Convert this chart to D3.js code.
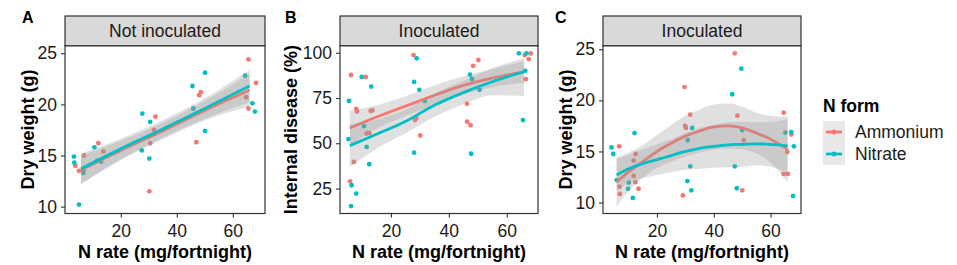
<!DOCTYPE html>
<html>
<head>
<meta charset="utf-8">
<script src="https://cdn.jsdelivr.net/npm/d3@7/dist/d3.min.js"></script>
<style>
  body { margin: 0; background: #fff; }
  svg { font-family: "Liberation Sans", Arial, sans-serif; }
</style>
</head>
<body>
<svg id="chart" width="957" height="265"></svg>
<script>
// ---------- data ----------
const seriesNames = ['Ammonium', 'Nitrate'];
const seriesColors = ['#F8766D', '#00BFC4'];
const xTicks = [20, 40, 60];
const dryWeightTicks = [10, 15, 20, 25];
const diseaseTicks = [25, 50, 75, 100];

// A: not inoculated, dry weight (g)  [N rate, value]
const ptsA_ammonium = [[3.8,14.0],[5.1,13.5],[6.9,15.0],[6.9,13.6],[12.0,16.2],[13.8,15.4],[32.4,18.8],[31.9,17.5],
  [30.5,16.2],[30.2,11.5],[65.6,24.4],[48.6,21.2],[48.0,20.9],[68.3,22.1],[64.8,20.7],[65.6,19.6],[47.0,16.3]];
const ptsA_nitrate = [[3.3,14.9],[3.4,14.3],[6.6,13.3],[5.1,10.2],[10.6,15.8],[11.6,14.5],[13.0,14.4],[27.7,19.1],
  [27.5,15.5],[30.5,18.3],[30.2,14.7],[50.1,23.1],[45.6,21.8],[64.4,22.8],[45.9,19.6],[67.0,20.1],[67.9,19.3],[50.1,17.4]];
// smooth: [N rate, fit, lower, upper]
const fitA_ammonium = [[5.8,13.6,12.2,15.0],[20,15.5,14.55,16.45],[35,17.4,16.6,18.2],[50,19.4,18.45,20.35],[66,21.4,19.8,23.0]];
const fitA_nitrate = [[5.8,13.7,12.2,15.2],[20,15.65,14.65,16.65],[35,17.6,16.75,18.45],[50,19.6,18.6,20.6],[66,21.8,20.2,23.4]];

// B: inoculated, internal disease (%)
const ptsB_ammonium = [[6.2,87.7],[11.3,86.6],[8.0,69.0],[8.3,67.6],[13.0,67.9],[13.6,68.2],[11.6,55.4],[12.5,55.6],
  [7.2,39.7],[5.9,29.0],[27.8,98.7],[28.3,62.8],[28.8,63.9],[30.1,54.3],[50.2,96.0],[48.4,92.8],[46.3,71.8],
  [46.3,61.9],[47.5,60.0],[66.2,98.7],[68.3,99.7],[67.6,96.5],[66.6,85.4]];
const ptsB_nitrate = [[5.5,73.4],[9.9,86.6],[13.2,81.3],[10.7,59.5],[5.3,52.3],[11.6,48.0],[12.5,38.4],[6.4,26.8],
  [8.0,22.2],[6.2,15.3],[28.9,96.9],[28.0,83.9],[29.8,79.5],[31.7,73.4],[28.0,44.8],[47.3,87.9],[48.0,85.5],
  [50.6,79.5],[47.7,44.2],[64.2,99.7],[66.8,99.7],[66.4,90.0],[65.6,62.8]];
const fitB_ammonium = [[5.8,58.4,48.9,67.9],[15,64.5,58,71],[25,70.5,65,76],[35,76.5,71,82],[45,82,77,87],
  [55,86,81,91],[66,89.5,83.5,95.5]];
const fitB_nitrate = [[5.8,48.7,36.7,60.7],[15,55,47,63],[25,62,55.5,68.5],[35,71,64.5,77.5],[45,78,71.5,84.5],
  [55,84,76.5,91.5],[66,89.5,76,97]];

// C: inoculated, dry weight (g)
const ptsC_ammonium = [[6.7,15.5],[12.5,14.75],[11.8,14.1],[6.8,11.55],[6.9,10.85],[11.8,12.6],[12.4,12.0],[13.5,11.35],
  [29.7,21.3],[31.7,18.6],[29.9,17.5],[30.2,17.3],[29.1,10.7],[47.4,24.6],[48.3,18.5],[50.6,16.1],[50.0,11.2],
  [64.6,18.8],[67.3,16.65],[65.9,14.95],[64.6,12.8],[66.1,12.8]];
const ptsC_nitrate = [[4.0,15.4],[4.6,14.75],[12.1,16.8],[5.8,12.2],[10.1,11.95],[9.8,11.35],[11.5,10.45],[32.4,17.3],
  [30.8,16.1],[31.7,13.55],[30.7,12.1],[32.1,11.2],[49.7,23.1],[46.5,20.6],[50.0,17.1],[47.4,13.55],[48.1,11.4],
  [65.2,16.85],[67.3,16.9],[68.2,15.5],[67.9,10.65]];
const fitC_ammonium = [[5.8,12.0,9.6,14.4],[10,13.0,11.1,14.9],[15,14.0,12.4,15.6],[20,15.0,13.4,16.6],[25,15.8,14.0,17.6],
  [30,16.5,14.5,18.5],[35,17.0,14.9,19.1],[40,17.4,15.2,19.6],[45,17.5,15.3,19.7],[50,17.3,15.2,19.4],
  [55,16.8,14.8,18.8],[60,16.2,13.9,18.5],[66,15.2,12.0,18.4]];
const fitC_nitrate = [[5.8,12.7,11.1,14.3],[10,13.3,11.9,14.7],[15,13.8,12.4,15.2],[20,14.2,12.7,15.7],[25,14.6,13.0,16.2],
  [30,15.0,13.2,16.8],[35,15.3,13.3,17.3],[40,15.5,13.4,17.6],[45,15.65,13.45,17.85],[50,15.7,13.5,17.9],
  [55,15.75,13.65,17.85],[60,15.7,13.5,17.9],[66,15.55,12.95,18.15]];

// ---------- drawing ----------
class FacetPanel {
    constructor(config) {
        this.config = {
            parent: config.parent,
            left: config.left,
            right: config.right,
            top: config.top || 16,
            stripHeight: config.stripHeight || 29.7,
            bottom: config.bottom || 213.5,
            xdomain: config.xdomain,
            ydomain: config.ydomain,
            yticks: config.yticks,
            strip: config.strip,
            ylabel: config.ylabel,
            ylabelX: config.ylabelX,
            tag: config.tag,
            tagX: config.tagX,
            points: config.points,
            fits: config.fits
        };
        this.init();
    }

    init() {
        let self = this;
        const c = self.config;
        self.svg = d3.select(c.parent);
        self.plotTop = c.top + c.stripHeight;

        self.xscale = d3.scaleLinear().domain(c.xdomain).range([c.left, c.right]);
        self.yscale = d3.scaleLinear().domain(c.ydomain).range([c.bottom, self.plotTop]);

        self.chart = self.svg.append('g');

        // clip so nothing leaks outside the panel
        self.clipId = 'clip-' + c.tag;
        self.svg.append('clipPath').attr('id', self.clipId)
            .append('rect')
            .attr('x', c.left).attr('y', self.plotTop)
            .attr('width', c.right - c.left).attr('height', c.bottom - self.plotTop);
    }

    render() {
        let self = this;
        const c = self.config;
        const plot = self.chart.append('g').attr('clip-path', `url(#${self.clipId})`);

        // points first, smooths on top (as geom_point + geom_smooth)
        c.points.forEach((pts, i) => {
            plot.append('g').selectAll('circle')
                .data(pts)
                .join('circle')
                .attr('cx', d => self.xscale(d[0]))
                .attr('cy', d => self.yscale(d[1]))
                .attr('r', 2.4)
                .attr('fill', seriesColors[i]);
        });

        const area = d3.area()
            .x(d => self.xscale(d[0]))
            .y0(d => self.yscale(d[2]))
            .y1(d => self.yscale(d[3]))
            .curve(d3.curveMonotoneX);
        const line = d3.line()
            .x(d => self.xscale(d[0]))
            .y(d => self.yscale(d[1]))
            .curve(d3.curveMonotoneX);

        c.fits.forEach((fit, i) => {
            plot.append('path')
                .attr('d', area(fit))
                .attr('fill', '#999999')
                .attr('fill-opacity', 0.3);
            plot.append('path')
                .attr('d', line(fit))
                .attr('fill', 'none')
                .attr('stroke', seriesColors[i])
                .attr('stroke-width', 2.8);
        });

        // panel border
        self.chart.append('rect')
            .attr('x', c.left).attr('y', self.plotTop)
            .attr('width', c.right - c.left).attr('height', c.bottom - self.plotTop)
            .attr('fill', 'none').attr('stroke', '#333').attr('stroke-width', 1.2);

        // strip
        self.chart.append('rect')
            .attr('x', c.left).attr('y', c.top)
            .attr('width', c.right - c.left).attr('height', c.stripHeight)
            .attr('fill', '#d9d9d9').attr('stroke', '#333').attr('stroke-width', 1.2);
        self.chart.append('text')
            .attr('x', (c.left + c.right) / 2)
            .attr('y', c.top + c.stripHeight / 2)
            .attr('dy', '0.36em')
            .attr('text-anchor', 'middle')
            .style('font-size', '17.5px')
            .attr('fill', '#1a1a1a')
            .text(c.strip);

        // axes
        const xaxis = d3.axisBottom(self.xscale).tickValues(xTicks).tickSize(4).tickPadding(7);
        const yaxis = d3.axisLeft(self.yscale).tickValues(c.yticks).tickSize(4).tickPadding(4);

        const xg = self.chart.append('g')
            .attr('transform', `translate(0, ${c.bottom})`)
            .call(xaxis);
        const yg = self.chart.append('g')
            .attr('transform', `translate(${c.left}, 0)`)
            .call(yaxis);
        [xg, yg].forEach(g => {
            g.select('.domain').remove();
            g.selectAll('line').attr('stroke', '#333').attr('stroke-width', 1.1);
            g.selectAll('text')
                .attr('fill', '#1a1a1a')
                .style('font-size', '17.5px')
                .style('font-family', '"Liberation Sans", Arial, sans-serif');
        });

        // axis titles
        self.chart.append('text')
            .attr('x', (c.left + c.right) / 2)
            .attr('y', 258)
            .attr('text-anchor', 'middle')
            .style('font-size', '18px')
            .style('font-weight', 'bold')
            .text('N rate (mg/fortnight)');

        self.chart.append('text')
            .attr('transform', `translate(${c.ylabelX}, ${(self.plotTop + c.bottom) / 2}) rotate(-90)`)
            .attr('dy', '0.35em')
            .attr('text-anchor', 'middle')
            .style('font-size', '18px')
            .style('font-weight', 'bold')
            .text(c.ylabel);

        // panel tag
        self.chart.append('text')
            .attr('x', c.tagX)
            .attr('y', 23)
            .style('font-size', '16px')
            .style('font-weight', 'bold')
            .text(c.tag);
    }
}

const panelA = new FacetPanel({
    parent: '#chart', left: 65, right: 265,
    xdomain: [0.1, 71.5], ydomain: [9.33, 25.74], yticks: dryWeightTicks,
    strip: 'Not inoculated', ylabel: 'Dry weight (g)', ylabelX: 28, tag: 'A', tagX: 22,
    points: [ptsA_ammonium, ptsA_nitrate], fits: [fitA_ammonium, fitA_nitrate]
});
const panelB = new FacetPanel({
    parent: '#chart', left: 340, right: 538,
    xdomain: [2.4, 70.8], ydomain: [11.2, 103.9], yticks: diseaseTicks,
    strip: 'Inoculated', ylabel: 'Internal disease (%)', ylabelX: 291, tag: 'B', tagX: 285,
    points: [ptsB_ammonium, ptsB_nitrate], fits: [fitB_ammonium, fitB_nitrate]
});
const panelC = new FacetPanel({
    parent: '#chart', left: 603, right: 801,
    xdomain: [1.0, 70.7], ydomain: [8.93, 25.35], yticks: dryWeightTicks,
    strip: 'Inoculated', ylabel: 'Dry weight (g)', ylabelX: 566, tag: 'C', tagX: 555,
    points: [ptsC_ammonium, ptsC_nitrate], fits: [fitC_ammonium, fitC_nitrate]
});
[panelA, panelB, panelC].forEach(p => p.render());

// ---------- legend ----------
const svg = d3.select('#chart');
const legend = svg.append('g').attr('transform', 'translate(823, 0)');
legend.append('text')
    .attr('x', 0).attr('y', 111.5)
    .style('font-size', '17.5px')
    .style('font-weight', 'bold')
    .text('N form');

const keySize = 22;
const keyTop = 121;
const keys = legend.selectAll('g.key')
    .data(seriesNames)
    .join('g')
    .attr('class', 'key')
    .attr('transform', (d, i) => `translate(0, ${keyTop + i * keySize})`);
keys.append('rect')
    .attr('width', keySize).attr('height', keySize)
    .attr('fill', '#999999').attr('fill-opacity', 0.22);
keys.append('line')
    .attr('x1', 3).attr('x2', keySize - 3)
    .attr('y1', keySize / 2).attr('y2', keySize / 2)
    .attr('stroke', (d, i) => seriesColors[i])
    .attr('stroke-width', 2.8);
keys.append('circle')
    .attr('cx', keySize / 2).attr('cy', keySize / 2).attr('r', 2.4)
    .attr('fill', (d, i) => seriesColors[i]);
keys.append('text')
    .attr('x', 32).attr('y', keySize / 2)
    .attr('dy', '0.36em')
    .style('font-size', '17.5px')
    .attr('fill', '#1a1a1a')
    .text(d => d);
</script>
</body>
</html>
